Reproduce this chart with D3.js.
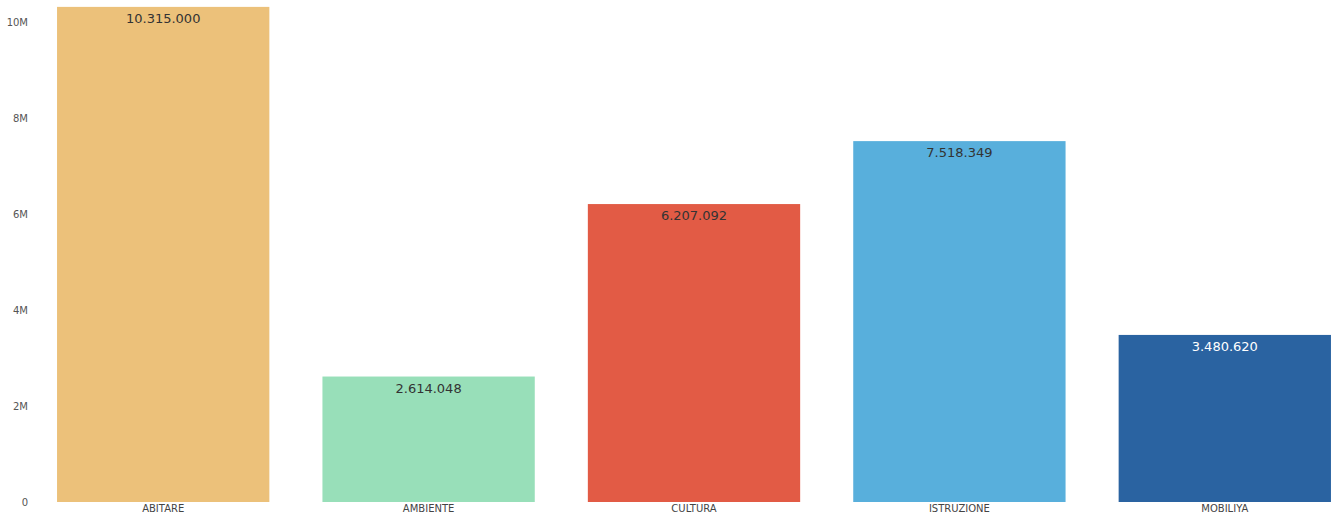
<!DOCTYPE html>
<html lang="it">
<head>
  <meta charset="UTF-8">
  <title>Importi per categoria</title>
  <script src="https://d3js.org/d3.v7.min.js"></script>
  <style>
    body { margin: 0; background: #fff; }
    .tick text { font-family: "DejaVu Sans", sans-serif; fill: #555; }
    .label { font-family: "DejaVu Sans", sans-serif; font-size: 13px; text-anchor: middle; }
  </style>
</head>
<body>
  <div id="chart"></div>
  <script>
    const categories = ["ABITARE", "AMBIENTE", "CULTURA", "ISTRUZIONE", "MOBILIYA"];
    const values = [10315000, 2614048, 6207092, 7518349, 3480620];
    const colors = ["#ecc17a", "#98dfb9", "#e25b45", "#58afdc", "#2a63a1"];
    const labelColors = ["#333", "#333", "#333", "#333", "#fff"];
    const yTicks = [0, 2e6, 4e6, 6e6, 8e6, 10e6];
    const yTickLabels = ["0", "2M", "4M", "6M", "8M", "10M"];

    const width = 1340, height = 519;
    const baseline = 502;

    const svg = d3.select("#chart")
      .append("svg")
      .attr("width", width)
      .attr("height", height);

    const x = d3.scaleBand()
      .domain(categories)
      .range([30.5, 1357.5])
      .paddingInner(0.2)
      .paddingOuter(0.1);

    const y = d3.scaleLinear()
      .domain([0, 10e6])
      .range([baseline, 22]);

    const fmt = d => d3.format(",")(d).replace(/,/g, ".");

    svg.append("g")
      .attr("transform", "translate(30,0)")
      .call(d3.axisLeft(y).tickValues(yTicks).tickSize(0).tickPadding(2)
        .tickFormat((d, i) => yTickLabels[i]))
      .call(g => g.select(".domain").remove())
      .selectAll("text").style("font-size", "10px");

    svg.append("g")
      .attr("transform", `translate(0, ${baseline})`)
      .call(d3.axisBottom(x).tickSize(0).tickPadding(3))
      .call(g => g.select(".domain").remove())
      .selectAll("text").style("font-size", "10px").style("fill", "#444");

    svg.selectAll(".bar")
      .data(values)
      .enter()
      .append("rect")
      .attr("class", "bar")
      .attr("x", (d, i) => x(categories[i]))
      .attr("y", d => y(d))
      .attr("width", x.bandwidth())
      .attr("height", d => baseline - y(d))
      .attr("fill", (d, i) => colors[i]);

    svg.selectAll(".label")
      .data(values)
      .enter()
      .append("text")
      .attr("class", "label")
      .attr("x", (d, i) => x(categories[i]) + x.bandwidth() / 2)
      .attr("y", d => y(d) + 16)
      .attr("fill", (d, i) => labelColors[i])
      .text(d => fmt(d));
  </script>
</body>
</html>
